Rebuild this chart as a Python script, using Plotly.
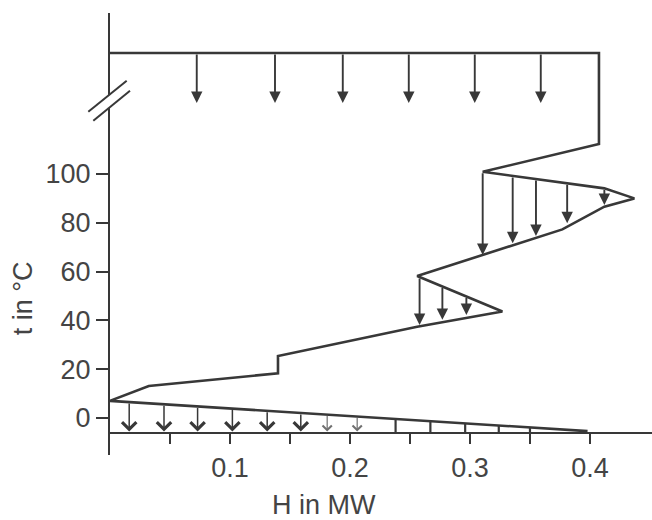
import numpy as np
import plotly.graph_objects as go

# ---------------- data (H in MW, t in °C) ----------------
gcc_H = [0.0, 0.4075, 0.4075, 0.3106, 0.412, 0.437, 0.412, 0.377, 0.256, 0.327,
         0.256, 0.14, 0.14, 0.0323, 0.0, 0.398]
gcc_t = [149.6, 149.6, 112.3, 100.9, 94.1, 90.0, 86.6, 77.3, 58.2, 43.6,
         37.4, 25.4, 18.3, 13.1, 7.0, -5.4]

top_arrow_H = [0.0723, 0.1375, 0.194, 0.249, 0.304, 0.359]
top_level_t = 149.6
top_arrow_tip_t = 129.1

pocket1_edge_H = [0.3106, 0.412, 0.437]
pocket1_edge_t = [100.9, 94.1, 90.0]
pocket1_arrow_H = [0.3106, 0.3356, 0.355, 0.381, 0.412]
pocket1_arrow_tip_t = [66.8, 71.6, 74.6, 79.8, 87.3]

pocket2_edge_H = [0.256, 0.327]
pocket2_edge_t = [58.2, 43.6]
pocket2_arrow_H = [0.258, 0.277, 0.297]
pocket2_arrow_tip_t = [38.1, 40.2, 42.2]

tri_H = [0.0, 0.398]
tri_t = [7.0, -5.4]
bottom_arrow_H = [0.016, 0.045, 0.073, 0.102, 0.131, 0.159, 0.181, 0.206]
bottom_arrow_light = [False, False, False, False, False, False, True, True]
bottom_arrow_tip_t = -5.6
bottom_bar_H = [0.238, 0.267, 0.296, 0.324, 0.350]

x_tick_vals = [0.1, 0.2, 0.3, 0.4]
x_tick_text = ["0.1", "0.2", "0.3", "0.4"]
x_minor_vals = [0.05, 0.15, 0.25, 0.35]
y_tick_vals = [0, 20, 40, 60, 80, 100]
y_tick_text = ["0", "20", "40", "60", "80", "100"]

# ---------------- style ----------------
LINE = "#383838"
TEXT = "#444444"
FONT = "Liberation Sans, Arial, sans-serif"
FS = 27
X_MIN, X_MAX = 0.0, 0.4517
Y_MIN, Y_MAX = -15.2, 166.0
AXIS_T = -6.3

fig = go.Figure()

fig.add_trace(go.Scatter(x=gcc_H, y=gcc_t, mode="lines",
                         line=dict(color=LINE, width=2.6), hoverinfo="skip",
                         showlegend=False, cliponaxis=False))

# vertical bars in the bottom triangle
bx, by = [], []
for h in bottom_bar_H:
    bx += [h, h, None]
    by += [float(np.interp(h, tri_H, tri_t)), AXIS_T, None]
fig.add_trace(go.Scatter(x=bx, y=by, mode="lines",
                         line=dict(color=LINE, width=2.2), hoverinfo="skip",
                         showlegend=False))

annotations = []


def arrow(x0, y0, x1, y1, head=2, size=1.2, width=1.9, color=LINE):
    annotations.append(dict(x=x1, y=y1, ax=x0, ay=y0, xref="x", yref="y",
                            axref="x", ayref="y", text="", showarrow=True,
                            arrowhead=head, arrowsize=size, arrowwidth=width,
                            arrowcolor=color, standoff=0, startstandoff=0))


for h in top_arrow_H:
    arrow(h, top_level_t, h, top_arrow_tip_t)
for h, tip in zip(pocket1_arrow_H, pocket1_arrow_tip_t):
    arrow(h, float(np.interp(h, pocket1_edge_H, pocket1_edge_t)), h, tip)
for h, tip in zip(pocket2_arrow_H, pocket2_arrow_tip_t):
    arrow(h, float(np.interp(h, pocket2_edge_H, pocket2_edge_t)), h, tip)
for h, light in zip(bottom_arrow_H, bottom_arrow_light):
    arrow(h, float(np.interp(h, tri_H, tri_t)), h, bottom_arrow_tip_t,
          head=4, size=1.5 if light else 1.85, width=1.2 if light else 1.5,
          color="#707070" if light else LINE)

# axis titles
annotations.append(dict(text="t in °C", textangle=-90, x=-0.159, xref="paper",
                        y=49, yref="y", showarrow=False, xanchor="center",
                        yanchor="middle", font=dict(family=FONT, size=FS, color=TEXT)))
annotations.append(dict(text="H in MW", x=0.178, xref="x", y=-0.113, yref="paper",
                        showarrow=False, xanchor="center", yanchor="middle",
                        font=dict(family=FONT, size=FS, color=TEXT)))

# axis-break mark on the y axis (paper coords)
W, HP = 542.0, 442.0


def px(xp):
    return (xp - 110.0) / W


def py(yp):
    return (455.0 - yp) / HP


shapes = [
    dict(type="path", xref="paper", yref="paper",
         path=f"M{px(88.3)},{py(111.7)} L{px(126.7)},{py(80.7)} L{px(130)},{py(90.7)} L{px(93.3)},{py(120.7)} Z",
         fillcolor="white", line=dict(width=0), layer="above"),
    dict(type="line", xref="paper", yref="paper", x0=px(88.3), y0=py(111.7),
         x1=px(126.7), y1=py(80.7), line=dict(color=LINE, width=2), layer="above"),
    dict(type="line", xref="paper", yref="paper", x0=px(93.3), y0=py(120.7),
         x1=px(130), y1=py(90.7), line=dict(color=LINE, width=2), layer="above"),
]

fig.update_layout(
    width=652, height=520,
    margin=dict(l=110, r=0, t=13, b=65),
    paper_bgcolor="white", plot_bgcolor="white",
    showlegend=False,
    annotations=annotations,
    shapes=shapes,
    font=dict(family=FONT, size=FS, color=TEXT),
    xaxis=dict(range=[X_MIN, X_MAX], showgrid=False, zeroline=False,
               showline=True, linecolor=LINE, linewidth=2,
               anchor="free", position=(AXIS_T - Y_MIN) / (Y_MAX - Y_MIN),
               tickmode="array", tickvals=x_tick_vals, ticktext=x_tick_text,
               ticks="outside", ticklen=10, tickwidth=2, tickcolor=LINE,
               minor=dict(tickmode="array", tickvals=x_minor_vals, ticks="outside",
                          ticklen=10, tickwidth=2, tickcolor=LINE),
               tickfont=dict(family=FONT, size=FS, color=TEXT)),
    yaxis=dict(range=[Y_MIN, Y_MAX], showgrid=False, zeroline=False,
               showline=True, linecolor=LINE, linewidth=2,
               tickmode="array", tickvals=y_tick_vals, ticktext=y_tick_text,
               ticks="outside", ticklen=12, tickwidth=2, tickcolor=LINE,
               tickfont=dict(family=FONT, size=FS, color=TEXT)),
)

fig.write_html("out.html")
